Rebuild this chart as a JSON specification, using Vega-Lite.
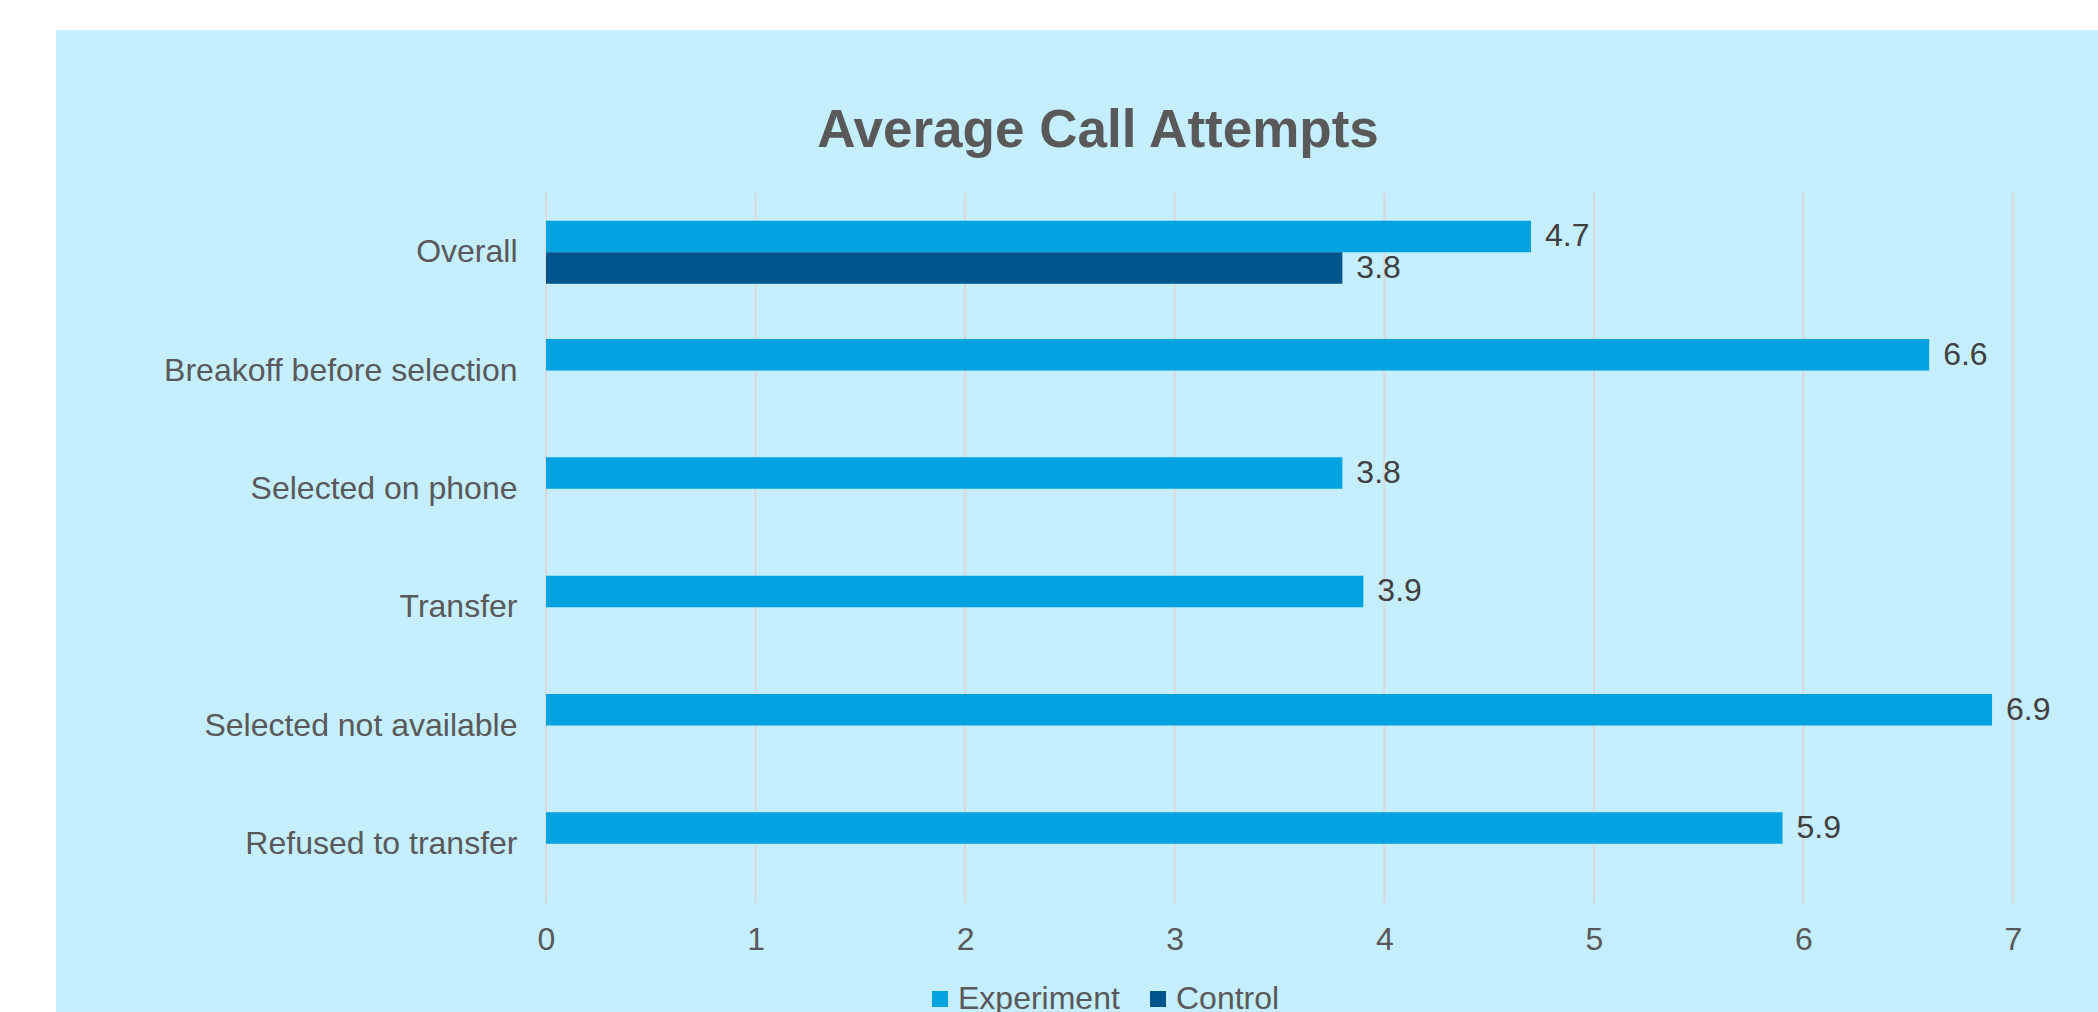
{
  "$schema": "https://vega.github.io/schema/vega-lite/v6.json",
  "width": 2042,
  "height": 982,
  "autosize": "none",
  "padding": {"left": 56, "top": 30, "right": 0, "bottom": 0},
  "background": "#ffffff",
  "config": {
    "view": {"fill": "#C5EEFE", "stroke": null},
    "font": "Liberation Sans"
  },
  "title": {
    "text": "Average Call Attempts",
    "anchor": "middle",
    "frame": "group",
    "orient": "top",
    "baseline": "alphabetic",
    "offset": -170,
    "dx": 21,
    "font": "Liberation Sans",
    "fontSize": 53,
    "fontWeight": "bold",
    "color": "#595959"
  },
  "datasets": {
    "bars": [
      {"category": "Overall", "series": "Experiment", "value": 4.7},
      {"category": "Overall", "series": "Control", "value": 3.8},
      {"category": "Breakoff before selection", "series": "Experiment", "value": 6.6},
      {"category": "Selected on phone", "series": "Experiment", "value": 3.8},
      {"category": "Transfer", "series": "Experiment", "value": 3.9},
      {"category": "Selected not available", "series": "Experiment", "value": 6.9},
      {"category": "Refused to transfer", "series": "Experiment", "value": 5.9}
    ],
    "grid": [
      {"tick": 0}, {"tick": 1}, {"tick": 2}, {"tick": 3},
      {"tick": 4}, {"tick": 5}, {"tick": 6}, {"tick": 7}
    ]
  },
  "layer": [
    {
      "data": {"name": "grid"},
      "mark": {"type": "rule", "color": "#D9D9D9", "strokeWidth": 2},
      "encoding": {
        "x": {
          "field": "tick",
          "type": "quantitative",
          "scale": {"domain": [0, 7], "range": [490, 1957], "nice": false, "zero": false},
          "axis": {
            "orient": "bottom",
            "offset": -109,
            "values": [0, 1, 2, 3, 4, 5, 6, 7],
            "format": "d",
            "labelFlush": false,
            "labelAlign": "center",
            "grid": false,
            "domain": false,
            "ticks": false,
            "labelFontSize": 32,
            "labelColor": "#595959",
            "labelFont": "Liberation Sans",
            "labelPadding": 21,
            "title": null
          }
        },
        "y": {"datum": 0, "type": "quantitative", "scale": {"domain": [0, 1], "range": [163, 873]}, "axis": null},
        "y2": {"datum": 1}
      }
    },
    {
      "data": {"name": "bars"},
      "encoding": {
        "y": {
          "field": "category",
          "type": "nominal",
          "sort": ["Overall", "Breakoff before selection", "Selected on phone", "Transfer", "Selected not available", "Refused to transfer"],
          "scale": {
            "domain": ["Overall", "Breakoff before selection", "Selected on phone", "Transfer", "Selected not available", "Refused to transfer"],
            "range": [163, 873],
            "paddingInner": 0.468,
            "paddingOuter": 0.234
          },
          "axis": {
            "orient": "left",
            "offset": -490,
            "grid": false,
            "domain": false,
            "ticks": false,
            "labelFontSize": 32,
            "labelColor": "#595959",
            "labelFont": "Liberation Sans",
            "labelPadding": 29,
            "labelLimit": 0,
            "title": null
          }
        },
        "yOffset": {
          "field": "series",
          "type": "nominal",
          "scale": {"domain": ["Experiment", "Control"], "paddingInner": 0, "paddingOuter": 0}
        },
        "x": {"field": "value", "type": "quantitative"}
      },
      "layer": [
        {
          "mark": {"type": "bar"},
          "encoding": {
            "color": {
              "field": "series",
              "type": "nominal",
              "scale": {"domain": ["Experiment", "Control"], "range": ["#00A2E0", "#00558C"]},
              "legend": {
                "orient": "none",
                "legendX": 868,
                "legendY": 953,
                "direction": "horizontal",
                "title": null,
                "padding": 0,
                "symbolType": "square",
                "symbolSize": 256,
                "symbolStrokeWidth": 0,
                "labelFontSize": 32,
                "labelColor": "#595959",
                "labelFont": "Liberation Sans",
                "labelLimit": 0,
                "labelOffset": 2,
                "columnPadding": 22
              }
            }
          }
        },
        {
          "mark": {"type": "text", "align": "left", "baseline": "middle", "dx": 14, "fontSize": 32, "color": "#404040", "font": "Liberation Sans"},
          "encoding": {
            "text": {"field": "value", "type": "quantitative", "format": ".1f"}
          }
        }
      ]
    }
  ],
  "resolve": {"scale": {"y": "independent"}}
}
